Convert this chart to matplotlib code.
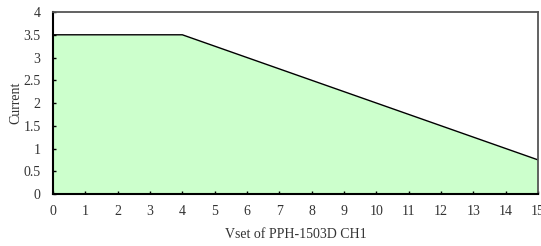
import matplotlib
matplotlib.use("Agg")
import matplotlib.pyplot as plt

vset = [0, 4, 5, 6, 7, 8, 9, 10, 11, 12, 13, 14, 15]
current = [3.5, 3.5, 3.25, 3.0, 2.75, 2.5, 2.25, 2.0, 1.75, 1.5, 1.25, 1.0, 0.75]
xticks = list(range(0, 16))
yticks = [0, 0.5, 1, 1.5, 2, 2.5, 3, 3.5, 4]
ytick_labels = ["0", "0.5", "1", "1.5", "2", "2.5", "3", "3.5", "4"]

plt.rcParams['font.family'] = ['Liberation Serif', 'DejaVu Serif']

fig = plt.figure(figsize=(5.41, 2.46), dpi=100)
ax = fig.add_axes([0.098, 0.2114, 0.8965, 0.7396])
ax.fill_between(vset, current, 0, color='#CCFFCC', linewidth=0)
ax.plot(vset, current, color='black', linewidth=1.0)
ax.set_xlim(0, 15)
ax.set_ylim(0, 4)
ax.set_xticks(xticks)
ax.set_yticks(yticks)
ax.set_yticklabels(ytick_labels)
ax.tick_params(direction='in', length=2.5, width=1, labelsize=10, colors='black',
               top=False, right=False)
ax.tick_params(axis='x', pad=8, labelcolor='#333333')
ax.tick_params(axis='y', pad=9, labelcolor='#333333')
for s in ['left', 'bottom']:
    ax.spines[s].set_color('black')
    ax.spines[s].set_linewidth(1.5)
for s in ['top', 'right']:
    ax.spines[s].set_color('#555555')
    ax.spines[s].set_linewidth(1.3)
ax.set_xlabel('Vset of PPH-1503D CH1', fontsize=10, color='#333333', labelpad=7)
ax.set_ylabel('Current', fontsize=10, color='#333333', labelpad=1)
fig.savefig('out.png', dpi=100)
